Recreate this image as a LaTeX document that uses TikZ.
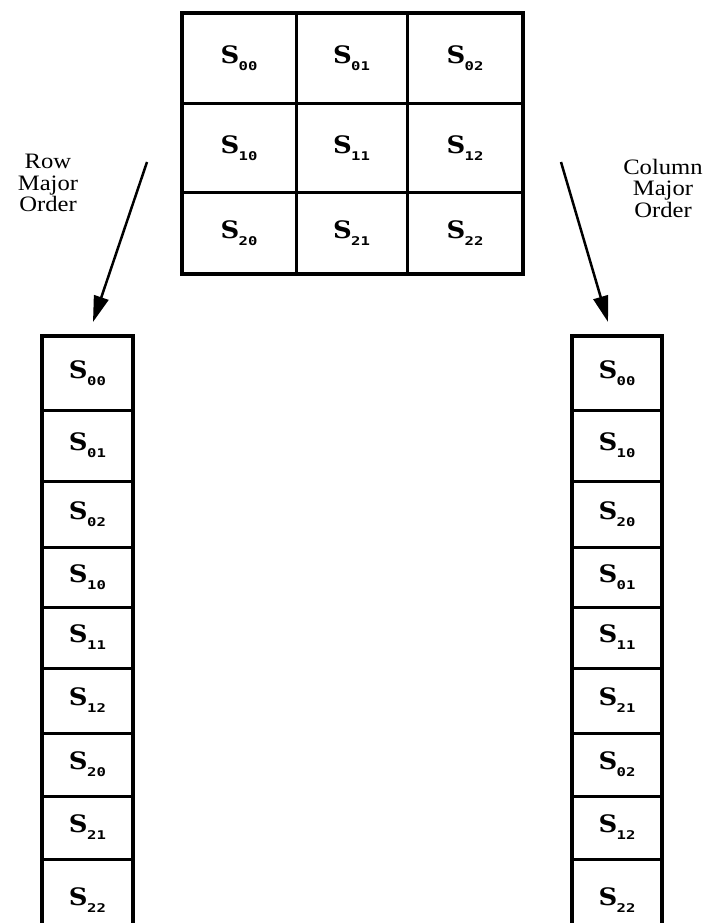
\documentclass[tikz,border=0pt]{standalone}
\usepackage{fontspec}
\setmainfont[FakeStretch=1.12]{Liberation Serif}
\newfontfamily\cellfont[FakeStretch=1.08]{DejaVu Serif}
\newfontfamily\subfont[FakeStretch=1.3]{DejaVu Sans Mono}
\usetikzlibrary{arrows.meta}
\newcommand\cellS[1]{{\cellfont\bfseries\fontsize{24}{24}\selectfont S}\kern-0.5pt\raisebox{-7pt}{\subfont\bfseries\fontsize{12}{12}\selectfont #1}}
\newcommand\cellnode[6]{\node[cellbox, minimum width={(#4-#2)*1pt}, minimum height={(#5-#3)*1pt}] (#1) at ({(#2+#4)/2},{(#3+#5)/2}) {\cellS{#6}};}
\tikzset{
  cellbox/.style={draw, line width=3pt, inner sep=0pt, outer sep=0pt},
  outerline/.style={line width=4.5pt},
  ordlabel/.style={align=center, font=\fontsize{22}{21.5}\selectfont},
  ordarrow/.style={line width=2.5pt, -{Triangle[length=26pt,width=15pt]}}
}
\begin{document}
\begin{tikzpicture}[x=1pt,y=-1pt]
\useasboundingbox (0,0) rectangle (708,923);
\clip (0,0) rectangle (708,923);
% matrix
\cellnode{m00}{182}{13}{296}{104}{00}
\cellnode{m01}{296}{13}{407}{104}{01}
\cellnode{m02}{407}{13}{523}{104}{02}
\cellnode{m10}{182}{104}{296}{192}{10}
\cellnode{m11}{296}{104}{407}{192}{11}
\cellnode{m12}{407}{104}{523}{192}{12}
\cellnode{m20}{182}{192}{296}{274}{20}
\cellnode{m21}{296}{192}{407}{274}{21}
\cellnode{m22}{407}{192}{523}{274}{22}
\draw[outerline] (m00.north west) rectangle (m22.south east);
% row major column
\cellnode{L1}{42}{336}{133}{410}{00}
\cellnode{L2}{42}{410}{133}{481}{01}
\cellnode{L3}{42}{481}{133}{547}{02}
\cellnode{L4}{42}{547}{133}{607}{10}
\cellnode{L5}{42}{607}{133}{668}{11}
\cellnode{L6}{42}{668}{133}{733}{12}
\cellnode{L7}{42}{733}{133}{796}{20}
\cellnode{L8}{42}{796}{133}{859}{21}
\cellnode{L9}{42}{859}{133}{941}{22}
\draw[outerline] (L9.south west) -- (L1.north west) -- (L1.north east) -- (L9.south east);
% column major column
\cellnode{R1}{572}{336}{662}{410}{00}
\cellnode{R2}{572}{410}{662}{481}{10}
\cellnode{R3}{572}{481}{662}{547}{20}
\cellnode{R4}{572}{547}{662}{607}{01}
\cellnode{R5}{572}{607}{662}{668}{11}
\cellnode{R6}{572}{668}{662}{733}{21}
\cellnode{R7}{572}{733}{662}{796}{02}
\cellnode{R8}{572}{796}{662}{859}{12}
\cellnode{R9}{572}{859}{662}{941}{22}
\draw[outerline] (R9.south west) -- (R1.north west) -- (R1.north east) -- (R9.south east);
% labels
\node[ordlabel] (rowlab) at (48,183) {Row\\Major\\Order};
\node[ordlabel] (collab) at (663,188) {Column\\Major\\Order};
% arrows
\coordinate (rowstart) at (147,162);
\coordinate (rowtip) at (93,322);
\coordinate (colstart) at (561,162);
\coordinate (coltip) at (608,322);
\draw[ordarrow] (rowstart) -- (rowtip);
\draw[ordarrow] (colstart) -- (coltip);
\end{tikzpicture}
\end{document}
